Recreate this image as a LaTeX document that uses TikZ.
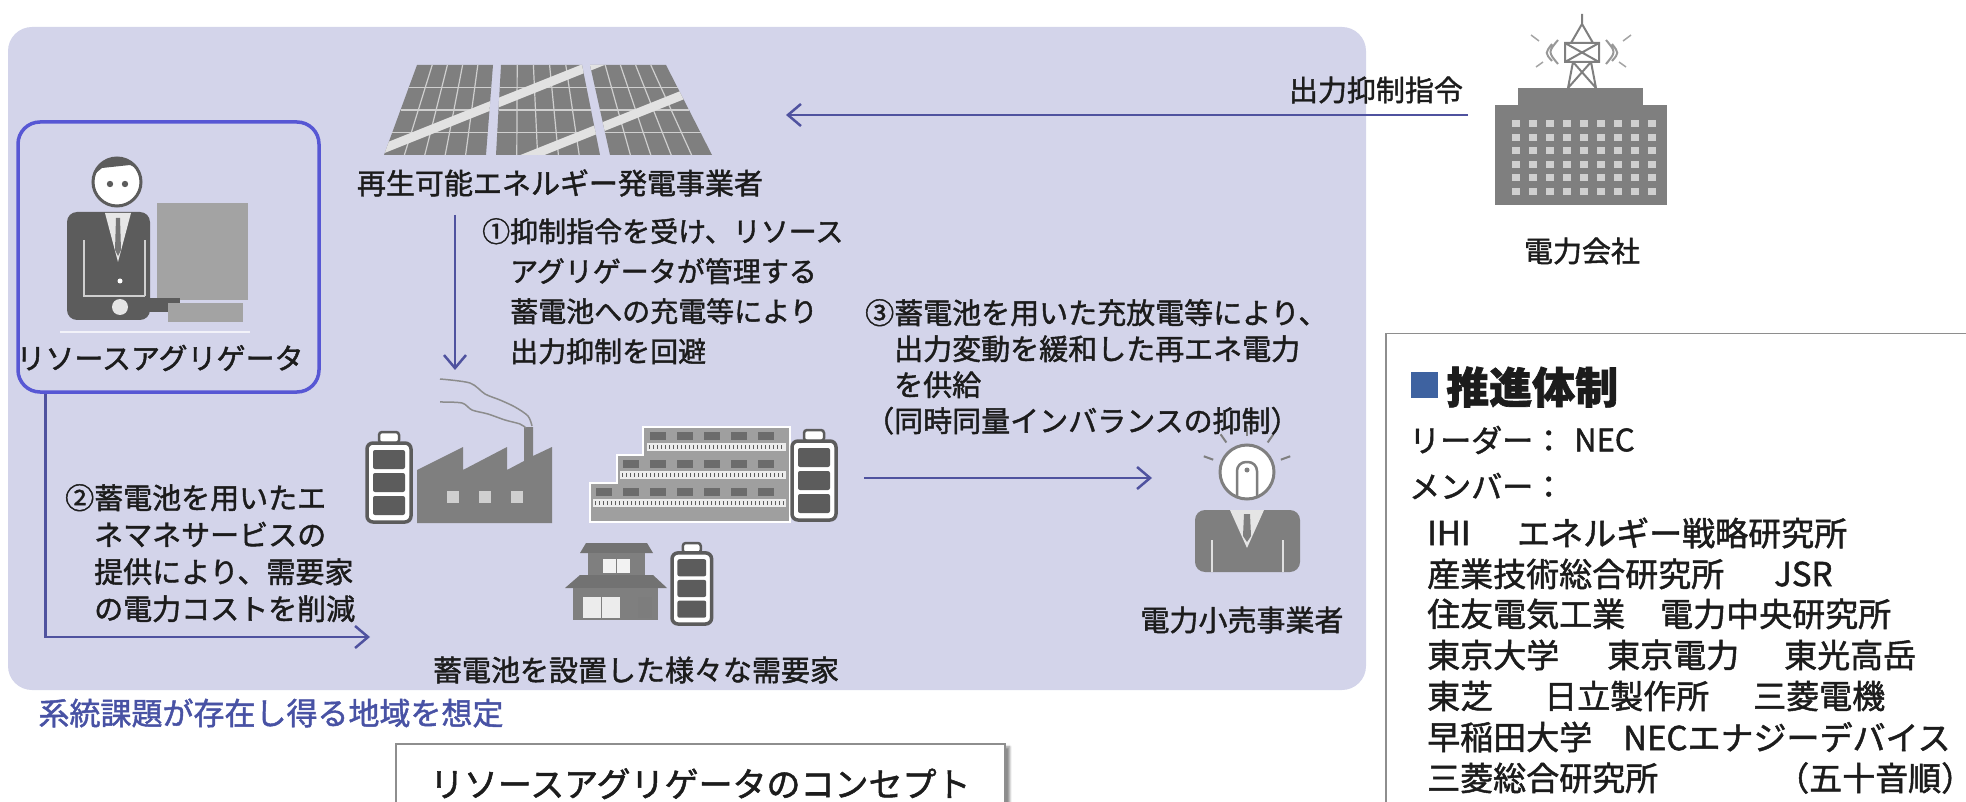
\documentclass[tikz,border=0pt]{standalone}
\usepackage{fontspec}
\setmainfont{Noto Sans CJK JP}[FakeBold=1.5]
\usepackage{xcolor}
\usepackage{tikz}
\usetikzlibrary{arrows.meta,positioning,calc,shadows.blur}
\definecolor{lav}{HTML}{D3D4EA}
\definecolor{flow}{HTML}{4F529F}
\definecolor{aggblue}{HTML}{5757D4}
\definecolor{note}{HTML}{4852A4}
\definecolor{ink}{HTML}{1C1C1C}
\definecolor{icon}{HTML}{7F7F7F}
\definecolor{icondk}{HTML}{5C5C5C}
\definecolor{iconmd}{HTML}{A3A3A3}
\definecolor{iconlt}{HTML}{CFCFCF}
\definecolor{boxline}{HTML}{8E8E8E}
\definecolor{headsq}{HTML}{3E62A0}
\tikzset{
  lbl/.style={font=\fontsize{29}{36}\selectfont,text=ink,inner sep=0pt},
  para/.style={lbl,align=left,anchor=north west},
  mem/.style={font=\fontsize{33}{40}\selectfont,text=ink,inner sep=0pt,anchor=west},
  flowarrow/.style={-{Straight Barb[length=13pt,width=22pt]},line width=2.5pt,color=flow},
  aggbox/.style={draw=aggblue,line width=3.5pt,rounded corners=22pt,minimum width=301pt,minimum height=270pt},
  panelbox/.style={draw=boxline,line width=1.5pt,fill=white,anchor=north west,inner sep=0pt},
  pvline/.style={iconlt,line width=1.2pt},
}
\newcommand{\battery}[3]{%
  \begin{scope}[shift={(#1,#2)},scale=#3]
    \draw[icondk,fill=white,line width=2.5pt,rounded corners=3pt] (12,0) rectangle (32,11);
    \draw[icondk,fill=white,line width=3.5pt,rounded corners=6pt] (0,11) rectangle (44,90);
    \foreach \y in {18,41,64} \fill[icondk,rounded corners=2pt] (6,\y) rectangle (38,\y+19);
  \end{scope}}

\begin{document}
\begin{tikzpicture}[x=1pt,y=-1pt]
  \useasboundingbox (0,0) rectangle (1966,802);
  \fill[lav,rounded corners=24pt] (8,27) rectangle (1366,690);

  \node[aggbox] (agg) at (168.5,257) {};
  \fill[icondk,rounded corners=10pt] (67,212) rectangle (150,320);
  \fill[white!85!icondk] (105,213) -- (131,213) -- (118,262) -- cycle;
  \fill[icondk!85] (116,218) -- (120,218) -- (121,250) -- (118,256) -- (115,250) -- cycle;
  \draw[iconlt,line width=2pt] (84,240) -- (84,296) -- (145,296);
  \draw[iconlt,line width=2pt] (145,240) -- (145,296);
  \fill[white] (120,281) circle (2.5);
  \fill[iconmd] (157,203) rectangle (248,300);
  \fill[icondk] (140,298) rectangle (180,312);
  \fill[iconmd] (168,303) rectangle (243,322);
  \fill[white!80!icon] (120,307) circle (8);
  \draw[white!70!lav,line width=2pt] (60,332) -- (250,332);
  \draw[icondk,line width=3pt,fill=white] (117,182) circle (24);
  \begin{scope}
    \clip (117,182) circle (24);
    \fill[icondk] (90,150) -- (145,150) -- (145,172) -- (130,165) -- (102,168) -- (90,178) -- cycle;
  \end{scope}
  \fill[icondk] (110,184) circle (3.2) (125,184) circle (3.2);
  \node[lbl] (agglbl) at (160,358) {リソースアグリゲータ};

  \foreach \pa/\pb/\pc/\pd in {417/493/384/486,501/582/496/600,590/666/610/712} {
    \fill[icon] (\pc,155) -- (\pa,65) -- (\pb,65) -- (\pd,155) -- cycle;
    \foreach \k in {1,...,4} \draw[pvline] ({\pa+(\pb-\pa)*\k/5},65) -- ({\pc+(\pd-\pc)*\k/5},155);
    \foreach \t in {0.25,0.5,0.75} \draw[pvline] ({\pa+(\pc-\pa)*\t},{65+90*\t}) -- ({\pb+(\pd-\pb)*\t},{65+90*\t});
  }
  \begin{scope}
    \clip (384,155) -- (417,65) -- (493,65) -- (486,155) -- cycle
          (496,155) -- (501,65) -- (582,65) -- (600,155) -- cycle
          (610,155) -- (590,65) -- (666,65) -- (712,155) -- cycle;
    \draw[iconlt!60!white,line width=9pt] (380,150) -- (610,58);
    \draw[iconlt!60!white,line width=9pt] (500,168) -- (730,76);
  \end{scope}
  \node[lbl] (pvlbl) at (560,183) {再生可能エネルギー発電事業者};

  \fill[icon] (1495,105) rectangle (1667,205);
  \fill[icon] (1518,88) rectangle (1643,105);
  \foreach \c in {0,...,8} \foreach \r in {0,...,5}
    \fill[iconlt] ({1512+17*\c},{120+13.6*\r}) rectangle +(8,7);
  \draw[icon,line width=2pt] (1568,88) -- (1573,62) (1596,88) -- (1591,62)
    (1568,88) -- (1591,62) (1596,88) -- (1573,62)
    (1565,43) rectangle (1599,62) (1565,43) -- (1599,62) (1599,43) -- (1565,62)
    (1571,43) -- (1582,24) -- (1593,43) (1582,24) -- (1582,14);
  \draw[icon!80,line width=2pt] (1558,40) .. controls (1548,52) .. (1558,64)
    (1552,44) .. controls (1545,53) .. (1552,61)
    (1606,40) .. controls (1616,52) .. (1606,64)
    (1612,44) .. controls (1619,53) .. (1612,61);
  \draw[icon!70,line width=1.5pt] (1531,35) -- (1539,41) (1536,67) -- (1543,62)
    (1631,35) -- (1623,41) (1626,67) -- (1619,62);
  \node[lbl] (pwlbl) at (1582,251) {電力会社};
  \node[lbl] (cmdlbl) at (1376,90) {出力抑制指令};

  \battery{367}{432}{1}
  \fill[icon] (417,523) -- (417,470) -- (463,447) -- (463,470) -- (507,447) -- (507,470)
    -- (524,461) -- (524,427) -- (533,427) -- (533,456) -- (552,447) -- (552,523) -- cycle;
  \foreach \x in {453,485,517} \fill[iconlt] (\x-6,491) rectangle (\x+6,503);
  \draw[icon!90,line width=1.5pt] plot[smooth] coordinates {(532,426) (528,416) (515,407) (500,400) (485,394) (470,383) (440,379)};
  \draw[icon!90,line width=1.5pt] plot[smooth] coordinates {(526,428) (520,424) (505,420) (488,414) (472,410) (462,403) (440,402)};

  \draw[white,line width=2.5pt,fill=iconmd!90!icon] (590,522) -- (590,483) -- (617,483) -- (617,455)
    -- (643,455) -- (643,427) -- (790,427) -- (790,522) -- cycle;
  \foreach \l/\n/\t in {650/4/427,623/5/455,596/6/483} {
    \foreach \k in {0,...,\n} \fill[icondk!90] ({\l+27*\k},{\t+5}) rectangle +(16,8);
    \fill[white!85!icon] (\l-3,\t+16) rectangle (786,\t+24);
    \draw[icondk,line width=4pt,dash pattern=on 1pt off 3pt] (\l-1,\t+20) -- (784,\t+20);
  }
  \battery{792}{430}{1}

  \fill[icon!90!black] (580,553) -- (586,543) -- (647,543) -- (653,553) -- cycle;
  \fill[icon] (588,553) rectangle (645,575);
  \fill[white!90!icon] (603,559) rectangle (630,573);
  \draw[icon,line width=1pt] (616.5,559) -- (616.5,573);
  \fill[icon!90!black] (580,575) -- (653,575) -- (667,588) -- (565,588) -- cycle;
  \fill[icon] (573,588) rectangle (658,620);
  \fill[white!85!icon] (583,597) rectangle (620,618);
  \draw[icon,line width=1pt] (601.5,597) -- (601.5,618);
  \fill[icondk!80] (638,597) rectangle (652,618);
  \battery{672}{543}{0.9}
  \node[lbl] (dclbl) at (636,670) {蓄電池を設置した様々な需要家};

  \coordinate (rh) at (1247,472);
  \fill[icon,rounded corners=10pt] (1195,572) -- (1195,510) -- (1300,510) -- (1300,572) -- cycle;
  \fill[white!80!icon] (1230,510) -- (1264,510) -- (1247,548) -- cycle;
  \fill[icon] (1244,514) -- (1250,514) -- (1251,536) -- (1247,542) -- (1243,536) -- cycle;
  \draw[white!75!icon,line width=2pt] (1212,540) -- (1212,572) (1283,540) -- (1283,572);
  \draw[icon,line width=3pt,fill=white] (rh) circle (27);
  \begin{scope}
    \clip (rh) circle (27);
    \draw[icon,line width=2.5pt,rounded corners=9pt] (1237,500) -- (1237,462) -- (1257,462) -- (1257,500);
  \end{scope}
  \fill[icon] (1247,470) circle (2.5);
  \foreach \a in {20,55,90,125,160}
    \draw[icon,line width=2pt] ([shift={(-\a:36)}]rh) -- ([shift={(-\a:46)}]rh);
  \node[lbl] (rtlbl) at (1242,620) {電力小売事業者};

  \node[para,font=\fontsize{28}{40}\selectfont] (step1) at (482,218)
    {①抑制指令を受け、リソース\\\phantom{①}アグリゲータが管理する\\\phantom{①}蓄電池への充電等により\\\phantom{①}出力抑制を回避};
  \node[para,font=\fontsize{29}{37}\selectfont] (step2) at (65,484)
    {②蓄電池を用いたエ\\\phantom{②}ネマネサービスの\\\phantom{②}提供により、需要家\\\phantom{②}の電力コストを削減};
  \node[para,font=\fontsize{29}{36}\selectfont] (step3) at (865,299)
    {③蓄電池を用いた充放電等により、\\\phantom{③}出力変動を緩和した再エネ電力\\\phantom{③}を供給\\（同時同量インバランスの抑制）};

  \coordinate (cmdfrom) at (1468,115);
  \coordinate (cmdto) at (786,115);
  \coordinate (s1from) at (455,215);
  \coordinate (s1to) at (455,370);
  \coordinate (s2to) at (370,637);
  \coordinate (s3from) at (864,478);
  \coordinate (s3to) at (1152,478);
  \draw[flowarrow] (cmdfrom) -- (cmdto);
  \draw[flowarrow] (s1from) -- (s1to);
  \draw[flowarrow] ([xshift=29pt]agg.south west) |- (s2to);
  \draw[flowarrow] (s3from) -- (s3to);

  \node[lbl,font=\fontsize{31}{36}\selectfont,text=note] (area) at (271,713) {系統課題が存在し得る地域を想定};

  \node[panelbox,minimum width=609pt,minimum height=80pt,font=\fontsize{34}{40}\selectfont,text=ink,
    blur shadow={shadow xshift=5pt,shadow yshift=-3pt,shadow blur steps=6,shadow opacity=45}]
    (concept) at (395,743) {リソースアグリゲータのコンセプト};

  \node[panelbox,minimum width=620pt,minimum height=500pt] (team) at (1385,333) {};
  \fill[headsq] (1411,372) rectangle (1438,398);
  \node[mem,font=\fontsize{43}{48}\selectfont\bfseries] (teamhd) at (1446,387) {推進体制};
  \node[mem,font=\fontsize{31}{36}\selectfont] at (1409,440) {リーダー：};
  \node[mem,font=\fontsize{31}{36}\selectfont] at (1574,440) {NEC};
  \node[mem,font=\fontsize{31}{36}\selectfont] at (1409,486) {メンバー：};
  \foreach \x/\y/\name in {1427/533/IHI,1517/533/エネルギー戦略研究所,
      1427/574/産業技術総合研究所,1774/574/JSR,
      1427/614/住友電気工業,1660/614/電力中央研究所,
      1427/655/東京大学,1607/655/東京電力,1784/655/東光高岳,
      1427/696/東芝,1544/696/日立製作所,1753/696/三菱電機,
      1427/737/早稲田大学,1623/737/NECエナジーデバイス,
      1427/778/三菱総合研究所,1776/778/（五十音順）}
    \node[mem] at (\x,\y) {\name};
\end{tikzpicture}
\end{document}
